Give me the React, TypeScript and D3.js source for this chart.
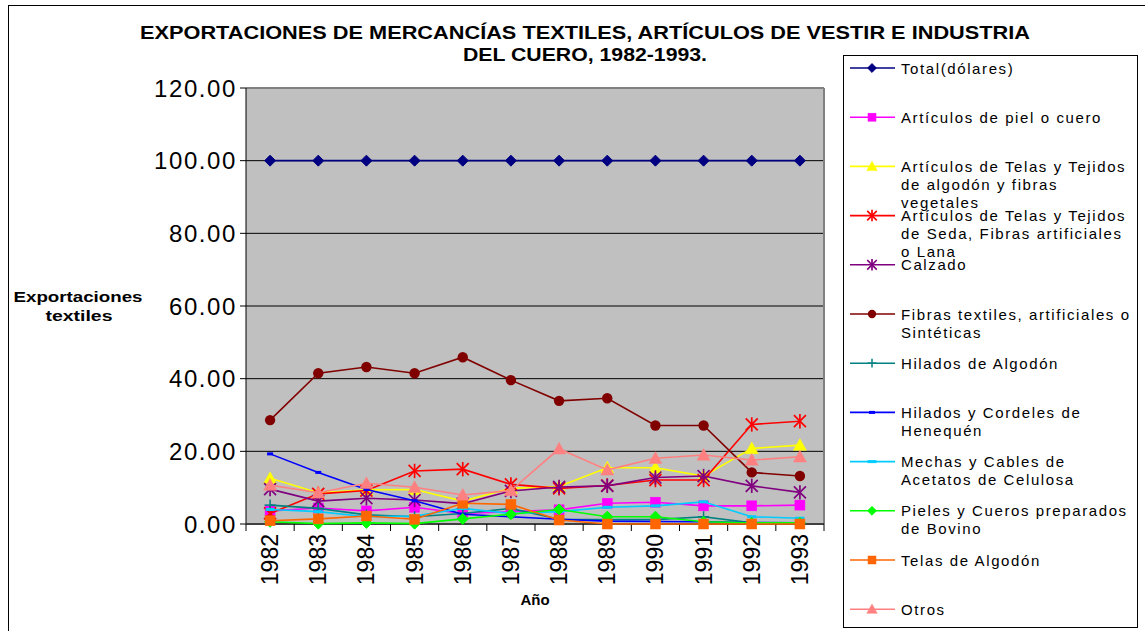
import React from 'react';
import * as d3 from 'd3';

const years = ['1982', '1983', '1984', '1985', '1986', '1987', '1988', '1989', '1990', '1991', '1992', '1993'];
const yTicks = [0, 20, 40, 60, 80, 100, 120];

const total = [100, 100, 100, 100, 100, 100, 100, 100, 100, 100, 100, 100];
const articulosPiel = [3.6, 4.4, 3.6, 4.6, 2.9, 3.4, 3.9, 5.7, 6.0, 5.0, 5.0, 5.2];
const telasAlgodonFibras = [12.6, 8.6, 9.4, 9.5, 6.3, 9.8, 10.3, 15.5, 15.5, 13.2, 20.8, 21.7];
const telasSeda = [2.9, 8.3, 9.2, 14.6, 15.1, 10.9, 9.8, 10.6, 12.1, 12.1, 27.4, 28.3];
const calzado = [9.6, 6.3, 7.1, 6.6, 5.6, 9.1, 10.2, 10.5, 12.8, 13.2, 10.5, 8.7];
const fibrasTextiles = [28.6, 41.5, 43.2, 41.5, 45.9, 39.6, 33.9, 34.6, 27.1, 27.1, 14.2, 13.2];
const hiladosAlgodon = [5.2, 4.3, 2.5, 2.0, 2.9, 4.3, 1.3, 1.2, 1.2, 2.0, 0.3, 0.3];
const henequen = [19.3, 14.2, 9.5, 6.4, 2.7, 2.0, 1.3, 0.8, 0.7, 0.6, 0.4, 0.3];
const mechas = [4.0, 3.4, 2.0, 2.2, 4.3, 2.9, 3.4, 4.6, 5.0, 6.1, 2.0, 1.6];
const pieles = [0.6, 0.1, 0.3, 0.1, 1.4, 2.7, 4.0, 2.0, 2.0, 0.6, 0.3, 0.3];
const telasAlgodon = [0.9, 1.4, 2.2, 1.3, 5.7, 5.4, 1.1, 0.0, 0.0, 0.0, 0.0, 0.0];
const otros = [10.7, 8.6, 11.2, 10.1, 8.0, 9.2, 20.7, 14.9, 18.1, 19.0, 17.6, 18.5];

const series = [
  { label: ['Total(dólares)'], values: total, color: '#000080', marker: 'diamond' },
  { label: ['Artículos de piel o cuero'], values: articulosPiel, color: '#FF00FF', marker: 'square' },
  { label: ['Artículos de Telas y Tejidos', 'de algodón y fibras', 'vegetales'], values: telasAlgodonFibras, color: '#FFFF00', marker: 'triangle' },
  { label: ['Artículos de Telas y Tejidos', 'de Seda, Fibras artificiales', 'o Lana'], values: telasSeda, color: '#FF0000', marker: 'asterisk' },
  { label: ['Calzado'], values: calzado, color: '#800080', marker: 'asterisk' },
  { label: ['Fibras textiles, artificiales o', 'Sintéticas'], values: fibrasTextiles, color: '#800000', marker: 'circle' },
  { label: ['Hilados de Algodón'], values: hiladosAlgodon, color: '#008080', marker: 'plus' },
  { label: ['Hilados y Cordeles de', 'Henequén'], values: henequen, color: '#0000FF', marker: 'dash' },
  { label: ['Mechas y Cables de', 'Acetatos de Celulosa'], values: mechas, color: '#00CCFF', marker: 'wdash' },
  { label: ['Pieles y Cueros preparados', 'de Bovino'], values: pieles, color: '#00FF00', marker: 'diamond' },
  { label: ['Telas de Algodón'], values: telasAlgodon, color: '#FF6600', marker: 'square' },
  { label: ['Otros'], values: otros, color: '#FF8080', marker: 'triangle' },
];

const FONT = '"Liberation Sans", Arial, sans-serif';

function Marker({ type, x, y, color, s = 1 }: { type: string; x: number; y: number; color: string; s?: number }) {
  switch (type) {
    case 'diamond': {
      const r = 5.5 * s;
      return <path d={`M${x},${y - r}L${x + r},${y}L${x},${y + r}L${x - r},${y}Z`} fill={color} stroke={color} strokeWidth={1} />;
    }
    case 'square': {
      const r = 5 * s;
      return <rect x={x - r} y={y - r} width={2 * r} height={2 * r} fill={color} stroke={color} strokeWidth={0.5} />;
    }
    case 'triangle': {
      const r = 6.5 * s;
      return <path d={`M${x},${y - r}L${x + r},${y + r * 0.8}L${x - r},${y + r * 0.8}Z`} fill={color} stroke={color} strokeWidth={0.5} />;
    }
    case 'asterisk': {
      const r = 6 * s;
      return (
        <g stroke={color} strokeWidth={1.7}>
          <line x1={x - r} y1={y - r} x2={x + r} y2={y + r} />
          <line x1={x - r} y1={y + r} x2={x + r} y2={y - r} />
          <line x1={x} y1={y - r * 1.2} x2={x} y2={y + r * 1.2} />
        </g>
      );
    }
    case 'circle':
      return <circle cx={x} cy={y} r={5.2 * s} fill={color} />;
    case 'plus': {
      const r = 5.5 * s;
      return (
        <g stroke={color} strokeWidth={1.5}>
          <line x1={x - r} y1={y} x2={x + r} y2={y} />
          <line x1={x} y1={y - r} x2={x} y2={y + r} />
        </g>
      );
    }
    case 'dash':
      return <rect x={x - 3} y={y - 1.5} width={6} height={3} fill={color} />;
    case 'wdash':
      return <rect x={x - 4.5} y={y - 1.5} width={9} height={3} fill={color} />;
    default:
      return null;
  }
}

export default function App() {
  const W = 1145, H = 631;
  const plot = { left: 246, right: 824, top: 88, bottom: 524 };
  const xBand = d3.scaleBand<string>().domain(years).range([plot.left, plot.right]).padding(0);
  const xc = (yr: string) => (xBand(yr) as number) + xBand.bandwidth() / 2;
  const y = d3.scaleLinear().domain([0, 120]).range([plot.bottom, plot.top]);
  const line = d3.line<number>().x((_, i) => xc(years[i])).y((v) => y(v));

  const legend = { x: 843, y: 55, w: 294, h: 572, firstY: 68, step: 49.2, lineH: 18 };

  return (
    <svg width={W} height={H} style={{ position: 'absolute', left: 0, top: 0, background: '#fff' }} fontFamily={FONT}>
      <rect x={0} y={0} width={W} height={H} fill="#fff" />
      <rect x={8.5} y={5.5} width={W + 10} height={H + 10} fill="none" stroke="#000" strokeWidth={1} />

      {/* title */}
      <text x={585} y={39} textAnchor="middle" fontSize={19} fontWeight="bold" textLength={890} lengthAdjust="spacingAndGlyphs">
        EXPORTACIONES DE MERCANCÍAS TEXTILES, ARTÍCULOS DE VESTIR E INDUSTRIA
      </text>
      <text x={585} y={61} textAnchor="middle" fontSize={19} fontWeight="bold" textLength={244} lengthAdjust="spacingAndGlyphs">
        DEL CUERO, 1982-1993.
      </text>

      {/* plot area */}
      <rect x={plot.left} y={plot.top} width={plot.right - plot.left} height={plot.bottom - plot.top} fill="#C0C0C0" />
      {yTicks.filter((t) => t > 0 && t < 120).map((t) => (
        <line key={t} x1={plot.left} x2={plot.right} y1={y(t)} y2={y(t)} stroke="#000" strokeWidth={1} />
      ))}
      <line x1={plot.left} x2={plot.right} y1={plot.top} y2={plot.top} stroke="#808080" strokeWidth={2} />
      <line x1={plot.right} x2={plot.right} y1={plot.top} y2={plot.bottom} stroke="#808080" strokeWidth={2} />

      {/* axes */}
      <line x1={plot.left} x2={plot.left} y1={plot.top} y2={plot.bottom} stroke="#000" strokeWidth={1} />
      <line x1={plot.left} x2={plot.right} y1={plot.bottom} y2={plot.bottom} stroke="#404040" strokeWidth={2} />
      {yTicks.map((t) => (
        <g key={t}>
          <line x1={plot.left - 6} x2={plot.left} y1={y(t)} y2={y(t)} stroke="#000" />
          <text x={237} y={y(t) + 8.5} textAnchor="end" fontSize={24} letterSpacing={1.6}>
            {d3.format('.2f')(t)}
          </text>
        </g>
      ))}
      {d3.range(years.length + 1).map((i) => {
        const xx = plot.left + i * xBand.bandwidth();
        return <line key={i} x1={xx} x2={xx} y1={plot.bottom} y2={plot.bottom + 7} stroke="#000" />;
      })}
      {years.map((yr) => (
        <text key={yr} transform={`translate(${xc(yr) + 8},${plot.bottom + 10}) rotate(-90)`} textAnchor="end" fontSize={23}>
          {yr}
        </text>
      ))}

      <text x={535} y={605} textAnchor="middle" fontSize={15} fontWeight="bold">Año</text>
      <text x={78} y={302} textAnchor="middle" fontSize={15} fontWeight="bold" textLength={129} lengthAdjust="spacingAndGlyphs">Exportaciones</text>
      <text x={79} y={321} textAnchor="middle" fontSize={15} fontWeight="bold" textLength={67} lengthAdjust="spacingAndGlyphs">textiles</text>

      {/* series */}
      {series.map((s, si) => (
        <g key={si}>
          <path d={line(s.values) as string} fill="none" stroke={s.color} strokeWidth={1.6} />
          {s.values.map((v, i) => (
            <Marker key={i} type={s.marker} x={xc(years[i])} y={y(v)} color={s.color} />
          ))}
        </g>
      ))}

      {/* legend */}
      <rect x={legend.x + 0.5} y={legend.y + 0.5} width={legend.w} height={legend.h} fill="#fff" stroke="#000" strokeWidth={1} />
      {series.map((s, si) => {
        const ly = legend.firstY + si * legend.step;
        return (
          <g key={si}>
            <line x1={850} x2={895} y1={ly} y2={ly} stroke={s.color} strokeWidth={1.6} />
            <Marker type={s.marker} x={872} y={ly} color={s.color} s={0.8} />
            {s.label.map((t, li) => (
              <text key={li} x={901} y={ly + 5.5 + li * legend.lineH} fontSize={15} letterSpacing={1.6}>
                {t}
              </text>
            ))}
          </g>
        );
      })}
    </svg>
  );
}
